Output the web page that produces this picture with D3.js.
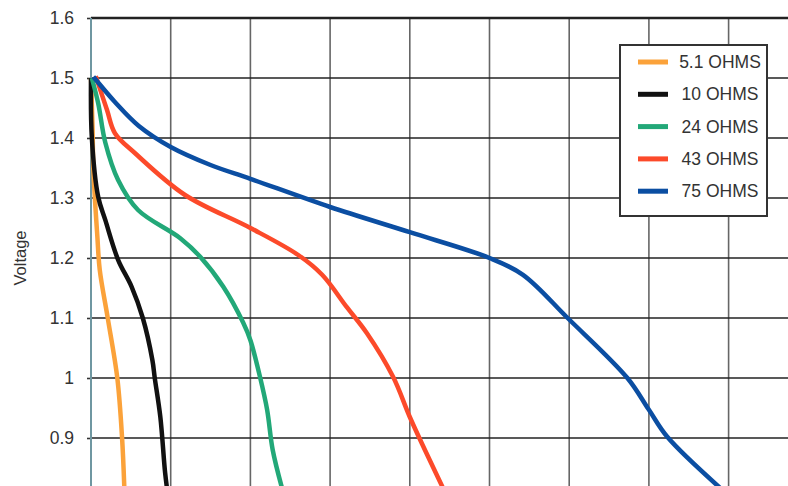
<!DOCTYPE html>
<meta charset="utf-8">
<script src="https://d3js.org/d3.v7.min.js"></script>
<style>
  body { margin: 0; background: #fff; }
  text { font-family: "Liberation Sans", Arial, sans-serif; fill: #333; }
</style>
<div id="chart"></div>
<script>

// discharge curves, x in grid units, y in volts
var t51 = [0, 0.02, 0.03, 0.08, 0.11, 0.21, 0.33, 0.39, 0.42];
var v51 = [1.5, 1.413, 1.347, 1.235, 1.18, 1.1, 1.0, 0.9, 0.81];

var t10 = [0, 0.01, 0.09, 0.18, 0.34, 0.51, 0.65, 0.77, 0.8, 0.87, 0.93, 0.96];
var v10 = [1.5, 1.402, 1.302, 1.263, 1.197, 1.152, 1.1, 1.03, 1.0, 0.935, 0.842, 0.81];

var t24 = [0.01, 0.09, 0.18, 0.34, 0.59, 1.12, 1.37, 1.66, 1.91, 2.0, 2.12, 2.21, 2.28, 2.41];
var v24 = [1.5, 1.458, 1.392, 1.33, 1.28, 1.233, 1.202, 1.152, 1.092, 1.063, 1.002, 0.947, 0.88, 0.81];

var t43 = [0.06, 0.2, 0.3, 0.55, 1.18, 2.0, 2.6, 2.9, 3.21, 3.46, 3.79, 4.0, 4.19, 4.44];
var v43 = [1.503, 1.447, 1.408, 1.375, 1.305, 1.25, 1.205, 1.172, 1.118, 1.075, 1.002, 0.935, 0.88, 0.81];

var t75 = [0.03, 0.3, 0.6, 1.0, 1.5, 2.0, 3.0, 4.0, 5.0, 5.42, 5.98, 6.73, 7.0, 7.23, 7.95];
var v75 = [1.502, 1.46, 1.42, 1.385, 1.355, 1.332, 1.285, 1.243, 1.2, 1.172, 1.1, 1.0, 0.947, 0.902, 0.81];

var names = ["5.1 OHMS", "10 OHMS", "24 OHMS", "43 OHMS", "75 OHMS"];
var colors = ["#fba23a", "#111111", "#22a878", "#fc4a2a", "#0b4ea2"];
var yTicks = [0.9, 1, 1.1, 1.2, 1.3, 1.4, 1.5, 1.6];
var xTicks = [1, 2, 3, 4, 5, 6, 7, 8];

var series = [[t51, v51], [t10, v10], [t24, v24], [t43, v43], [t75, v75]].map(function(s, i) {
  return { name: names[i], color: colors[i], pts: s[0].map(function(t, j) { return [t, s[1][j]]; }) };
});

var W = 788, H = 486;
var margin = {top: 18, left: 91};

var svg = d3.select("#chart").append("svg")
    .attr("width", W)
    .attr("height", H);

var x = d3.scaleLinear().domain([0, 9]).range([margin.left, margin.left + 9 * 79.7]);
var y = d3.scaleLinear().domain([0.82, 1.6]).range([H, margin.top]);

// vertical grid
svg.append("g").selectAll("line")
  .data(xTicks)
  .enter().append("line")
    .attr("x1", function(d) { return x(d); })
    .attr("x2", function(d) { return x(d); })
    .attr("y1", y(1.6))
    .attr("y2", H)
    .attr("stroke", "#666")
    .attr("stroke-width", 1.6);

// horizontal grid
svg.append("g").selectAll("line")
  .data(yTicks)
  .enter().append("line")
    .attr("x1", margin.left)
    .attr("x2", W)
    .attr("y1", function(d) { return y(d); })
    .attr("y2", function(d) { return y(d); })
    .attr("stroke", "#222")
    .attr("stroke-width", function(d) { return d == 1.6 ? 2.6 : 1.4; });

// y axis
var yAxis = svg.append("g")
  .attr("transform", "translate(" + margin.left + ",0)")
  .call(d3.axisLeft(y).tickValues(yTicks).tickSize(4).tickPadding(13).tickFormat(d3.format("~g")));
yAxis.select(".domain").remove();
yAxis.selectAll("line").attr("stroke", "#333").attr("stroke-width", 1.6);
yAxis.selectAll("text").style("font-size", "17.5px").attr("fill", "#333");

svg.append("line")
  .attr("x1", margin.left).attr("x2", margin.left)
  .attr("y1", y(1.6)).attr("y2", H)
  .attr("stroke", "#6f97a1")
  .attr("stroke-width", 2);

svg.append("text")
  .attr("transform", "translate(26,258)rotate(-90)")
  .attr("text-anchor", "middle")
  .style("font-size", "16.5px")
  .text("Voltage");

// curves
var line = d3.line()
  .x(function(d) { return x(d[0]); })
  .y(function(d) { return y(d[1]); })
  .curve(d3.curveCatmullRom.alpha(0.5));

svg.append("g").selectAll("path")
  .data(series)
  .enter().append("path")
    .attr("d", function(d) { return line(d.pts); })
    .attr("fill", "none")
    .attr("stroke", function(d) { return d.color; })
    .attr("stroke-width", 4.5)
    .attr("stroke-linejoin", "round");

// legend
var lg = svg.append("g");
lg.append("rect")
  .attr("x", 620).attr("y", 45)
  .attr("width", 147).attr("height", 171)
  .attr("fill", "#fff")
  .attr("stroke", "#333")
  .attr("stroke-width", 2);

var item = lg.selectAll(".item")
  .data(series)
  .enter().append("g")
    .attr("transform", function(d, i) { return "translate(0," + (62 + i * 32.3) + ")"; });
item.append("line")
  .attr("x1", 638).attr("x2", 668)
  .attr("stroke", function(d) { return d.color; })
  .attr("stroke-width", 5);
item.append("text")
  .attr("x", 720)
  .attr("dy", "0.35em")
  .attr("text-anchor", "middle")
  .style("font-size", "17.5px")
  .text(function(d) { return d.name; });

</script>
